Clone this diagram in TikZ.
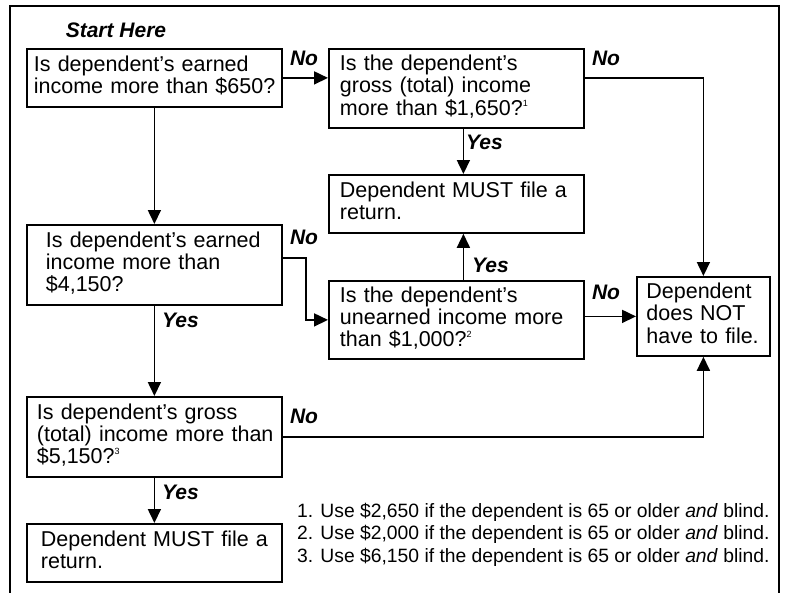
\documentclass[tikz,border=0pt]{standalone}
\usepackage{fontspec}
\setmainfont{Liberation Sans}
\usetikzlibrary{arrows.meta}
\newcommand{\fnmark}[1]{\smash{\raisebox{0.42em}{\fontsize{9}{9}\selectfont #1}}}
\newcommand{\qtext}[1]{\begin{tabular}{@{}l@{}}#1\end{tabular}}

\begin{document}
\begin{tikzpicture}[>={Triangle[length=14pt,width=13pt]},x=1pt,y=-1pt,
                        qbox/.style={draw,line width=1.8pt,anchor=north west,align=left,
                            inner ysep=0pt,font=\fontsize{21.5}{22}\selectfont},
                        lbl/.style={inner sep=0pt,font=\fontsize{21}{22}\selectfont\bfseries\itshape},
                        conn/.style={line width=1.7pt}]
                        \useasboundingbox (0,0) rectangle (789,592);
                        \draw[line width=1.8pt] (10,620) -- (10,6) -- (779,6) -- (779,620);
                        \node[lbl] (start) at (116,30) {Start Here};
                        \node[qbox,minimum height=58,text width=241,inner xsep=7] (earned) at (26,48)
                            {\qtext{Is dependent’s earned\\income more than \$650?}};
                        \node[qbox,minimum height=79,text width=233,inner xsep=11] (gross) at (328,48)
                            {\qtext{Is the dependent’s\\gross (total) income\\more than \$1,650?\fnmark{1}}};
                        \node[qbox,minimum height=58,text width=233,inner xsep=11] (must) at (328,174)
                            {\qtext{Dependent MUST file a\\return.}};
                        \node[qbox,minimum height=80,text width=217,inner xsep=19] (earnedb) at (26,224)
                            {\qtext{Is dependent’s earned\\income more than\\\$4,150?}};
                        \node[qbox,minimum height=78,text width=233,inner xsep=11] (unearned) at (328,280)
                            {\qtext{Is the dependent’s\\unearned income more\\than \$1,000?\fnmark{2}}};
                        \node[qbox,minimum height=79,text width=114,inner xsep=9.5] (nofile) at (636,276)
                            {\qtext{Dependent\\does NOT\\have to file.}};
                        \node[qbox,minimum height=80,text width=235,inner xsep=10,
                            font=\fontsize{21.5}{21}\selectfont] (grossb) at (26,396)
                            {\qtext{Is dependent’s gross\\(total) income more than\\\$5,150?\fnmark{3}}};
                        \node[qbox,minimum height=58,text width=227,inner xsep=14] (mustb) at (26,523)
                            {\qtext{Dependent MUST file a\\return.}};
                        \node[lbl] (noa) at (304,58) {No};
                        \node[lbl] (nob) at (606,58) {No};
                        \node[lbl,anchor=west] (yesb) at (466,142) {Yes};
                        \node[lbl] (noc) at (304,237) {No};
                        \node[lbl,anchor=west] (yesc) at (162,320) {Yes};
                        \node[lbl,anchor=west] (yesd) at (472,265) {Yes};
                        \node[lbl] (nod) at (606,292) {No};
                        \node[lbl] (noe) at (304,416) {No};
                        \node[lbl,anchor=west] (yese) at (162,492) {Yes};
                        \node[anchor=north west,align=left,inner sep=0pt,
                            font=\fontsize{19.3}{22.5}\selectfont] (notes) at (297,503)
                            {1. Use \$2,650 if the dependent is 65 or older \emph{and} blind.\\
                             2. Use \$2,000 if the dependent is 65 or older \emph{and} blind.\\
                             3. Use \$6,150 if the dependent is 65 or older \emph{and} blind.};
                        \draw[conn,->] (earned.east) -- (earned.east -| gross.west);
                        \draw[conn,->] (earned.east -| gross.east) -| (nofile.north);
                        \draw[conn,->] ([xshift=7pt]gross.south) -- ([xshift=7pt]must.north);
                        \draw[conn,->] (earned.south) -- (earnedb.north);
                        \draw[conn,->] ([yshift=7pt]earnedb.east) -- ++(23,0) |- (unearned.west);
                        \draw[conn,->] ([xshift=7pt]unearned.north) -- ([xshift=7pt]must.south);
                        \draw[conn,->] (nofile.west -| unearned.east) -- (nofile.west);
                        \draw[conn,->] (earnedb.south) -- (grossb.north);
                        \draw[conn,->] (grossb.east) -| (nofile.south);
                        \draw[conn,->] (grossb.south) -- (mustb.north);
                    \end{tikzpicture}
\end{document}
